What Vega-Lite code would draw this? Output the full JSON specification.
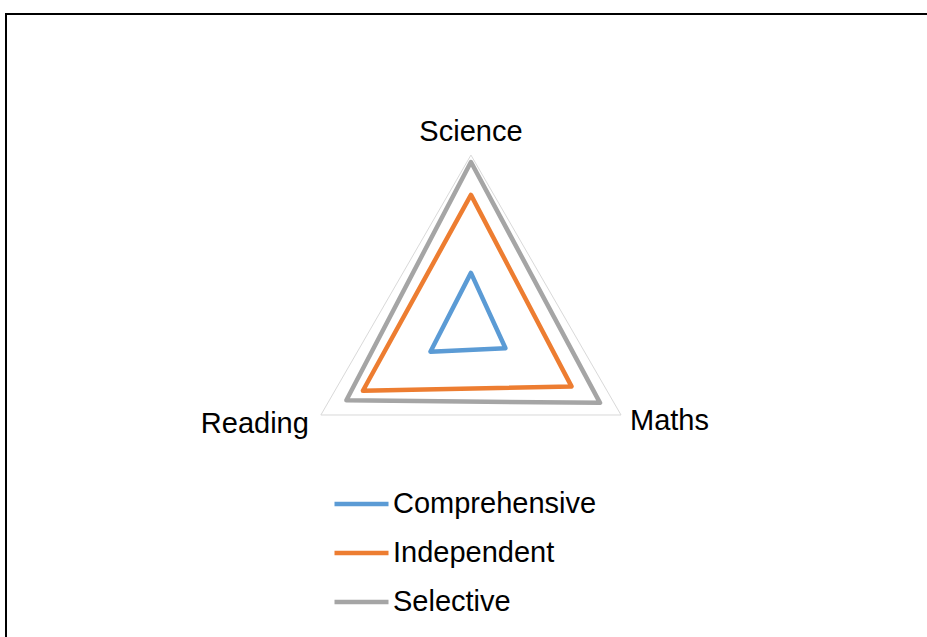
{
  "$schema": "https://vega.github.io/schema/vega-lite/v6.json",
  "width": 950,
  "height": 650,
  "autosize": {"type": "none"},
  "padding": {"left": 6, "top": 14, "right": 0, "bottom": 0},
  "background": "white",
  "config": {
    "view": {"stroke": "black", "strokeWidth": 2},
    "font": "Liberation Sans",
    "axis": {"disable": true}
  },
  "datasets": {
    "scores": [
      {"school": "Comprehensive", "subject": "Science", "score": 32},
      {"school": "Comprehensive", "subject": "Maths", "score": 23},
      {"school": "Comprehensive", "subject": "Reading", "score": 27},
      {"school": "Independent", "subject": "Science", "score": 77},
      {"school": "Independent", "subject": "Maths", "score": 67},
      {"school": "Independent", "subject": "Reading", "score": 72},
      {"school": "Selective", "subject": "Science", "score": 96},
      {"school": "Selective", "subject": "Maths", "score": 86},
      {"school": "Selective", "subject": "Reading", "score": 83}
    ],
    "axes": [
      {"subject": "Science", "max": 100},
      {"subject": "Maths", "max": 100},
      {"subject": "Reading", "max": 100}
    ]
  },
  "layer": [
    {
      "data": {"name": "axes"},
      "transform": [
        {"calculate": "indexof(['Science','Maths','Reading'], datum.subject)", "as": "idx"},
        {"calculate": "datum.max * sin(datum.idx * 2 * PI / 3)", "as": "px"},
        {"calculate": "datum.max * cos(datum.idx * 2 * PI / 3)", "as": "py"}
      ],
      "mark": {"type": "line", "interpolate": "linear-closed", "color": "#d9d9d9", "strokeWidth": 1},
      "encoding": {
        "x": {"field": "px", "type": "quantitative", "scale": {"domain": [-268.3, 279.9], "nice": false, "zero": false}, "axis": null},
        "y": {"field": "py", "type": "quantitative", "scale": {"domain": [-193.7, 181.4], "nice": false, "zero": false}, "axis": null},
        "order": {"field": "idx", "type": "quantitative"}
      }
    },
    {
      "data": {"name": "scores"},
      "transform": [
        {"calculate": "indexof(['Science','Maths','Reading'], datum.subject)", "as": "idx"},
        {"calculate": "datum.score * sin(datum.idx * 2 * PI / 3)", "as": "px"},
        {"calculate": "datum.score * cos(datum.idx * 2 * PI / 3)", "as": "py"}
      ],
      "mark": {"type": "line", "interpolate": "linear-closed", "strokeWidth": 4.5, "strokeJoin": "round", "strokeCap": "round"},
      "encoding": {
        "x": {"field": "px", "type": "quantitative", "scale": {"domain": [-268.3, 279.9], "nice": false, "zero": false}, "axis": null},
        "y": {"field": "py", "type": "quantitative", "scale": {"domain": [-193.7, 181.4], "nice": false, "zero": false}, "axis": null},
        "order": {"field": "idx", "type": "quantitative"},
        "color": {
          "field": "school",
          "type": "nominal",
          "scale": {"domain": ["Comprehensive", "Independent", "Selective"], "range": ["#5B9BD5", "#ED7D31", "#A5A5A5"]},
          "legend": {
            "title": null,
            "orient": "none",
            "legendX": 326,
            "legendY": 474,
            "padding": 0,
            "symbolType": "M-1,0H3",
            "symbolSize": 729,
            "symbolStrokeWidth": 4.5,
            "labelOffset": 29,
            "labelLimit": 0,
            "labelFont": "Liberation Sans",
            "labelFontSize": 29,
            "labelColor": "black",
            "rowPadding": 18
          }
        }
      }
    },
    {
      "data": {"name": "axes"},
      "transform": [
        {"filter": "datum.subject === 'Science'"},
        {"calculate": "indexof(['Science','Maths','Reading'], datum.subject)", "as": "idx"},
        {"calculate": "datum.max * sin(datum.idx * 2 * PI / 3)", "as": "px"},
        {"calculate": "datum.max * cos(datum.idx * 2 * PI / 3)", "as": "py"}
      ],
      "mark": {"type": "text", "align": "center", "baseline": "alphabetic", "dy": -14, "fontSize": 29, "font": "Liberation Sans", "color": "black"},
      "encoding": {
        "x": {"field": "px", "type": "quantitative"},
        "y": {"field": "py", "type": "quantitative"},
        "text": {"field": "subject"}
      }
    },
    {
      "data": {"name": "axes"},
      "transform": [
        {"filter": "datum.subject === 'Maths'"},
        {"calculate": "indexof(['Science','Maths','Reading'], datum.subject)", "as": "idx"},
        {"calculate": "datum.max * sin(datum.idx * 2 * PI / 3)", "as": "px"},
        {"calculate": "datum.max * cos(datum.idx * 2 * PI / 3)", "as": "py"}
      ],
      "mark": {"type": "text", "align": "left", "baseline": "alphabetic", "dx": 9, "dy": 15, "fontSize": 29, "font": "Liberation Sans", "color": "black"},
      "encoding": {
        "x": {"field": "px", "type": "quantitative"},
        "y": {"field": "py", "type": "quantitative"},
        "text": {"field": "subject"}
      }
    },
    {
      "data": {"name": "axes"},
      "transform": [
        {"filter": "datum.subject === 'Reading'"},
        {"calculate": "indexof(['Science','Maths','Reading'], datum.subject)", "as": "idx"},
        {"calculate": "datum.max * sin(datum.idx * 2 * PI / 3)", "as": "px"},
        {"calculate": "datum.max * cos(datum.idx * 2 * PI / 3)", "as": "py"}
      ],
      "mark": {"type": "text", "align": "right", "baseline": "alphabetic", "dx": -12, "dy": 18, "fontSize": 29, "font": "Liberation Sans", "color": "black"},
      "encoding": {
        "x": {"field": "px", "type": "quantitative"},
        "y": {"field": "py", "type": "quantitative"},
        "text": {"field": "subject"}
      }
    }
  ]
}
